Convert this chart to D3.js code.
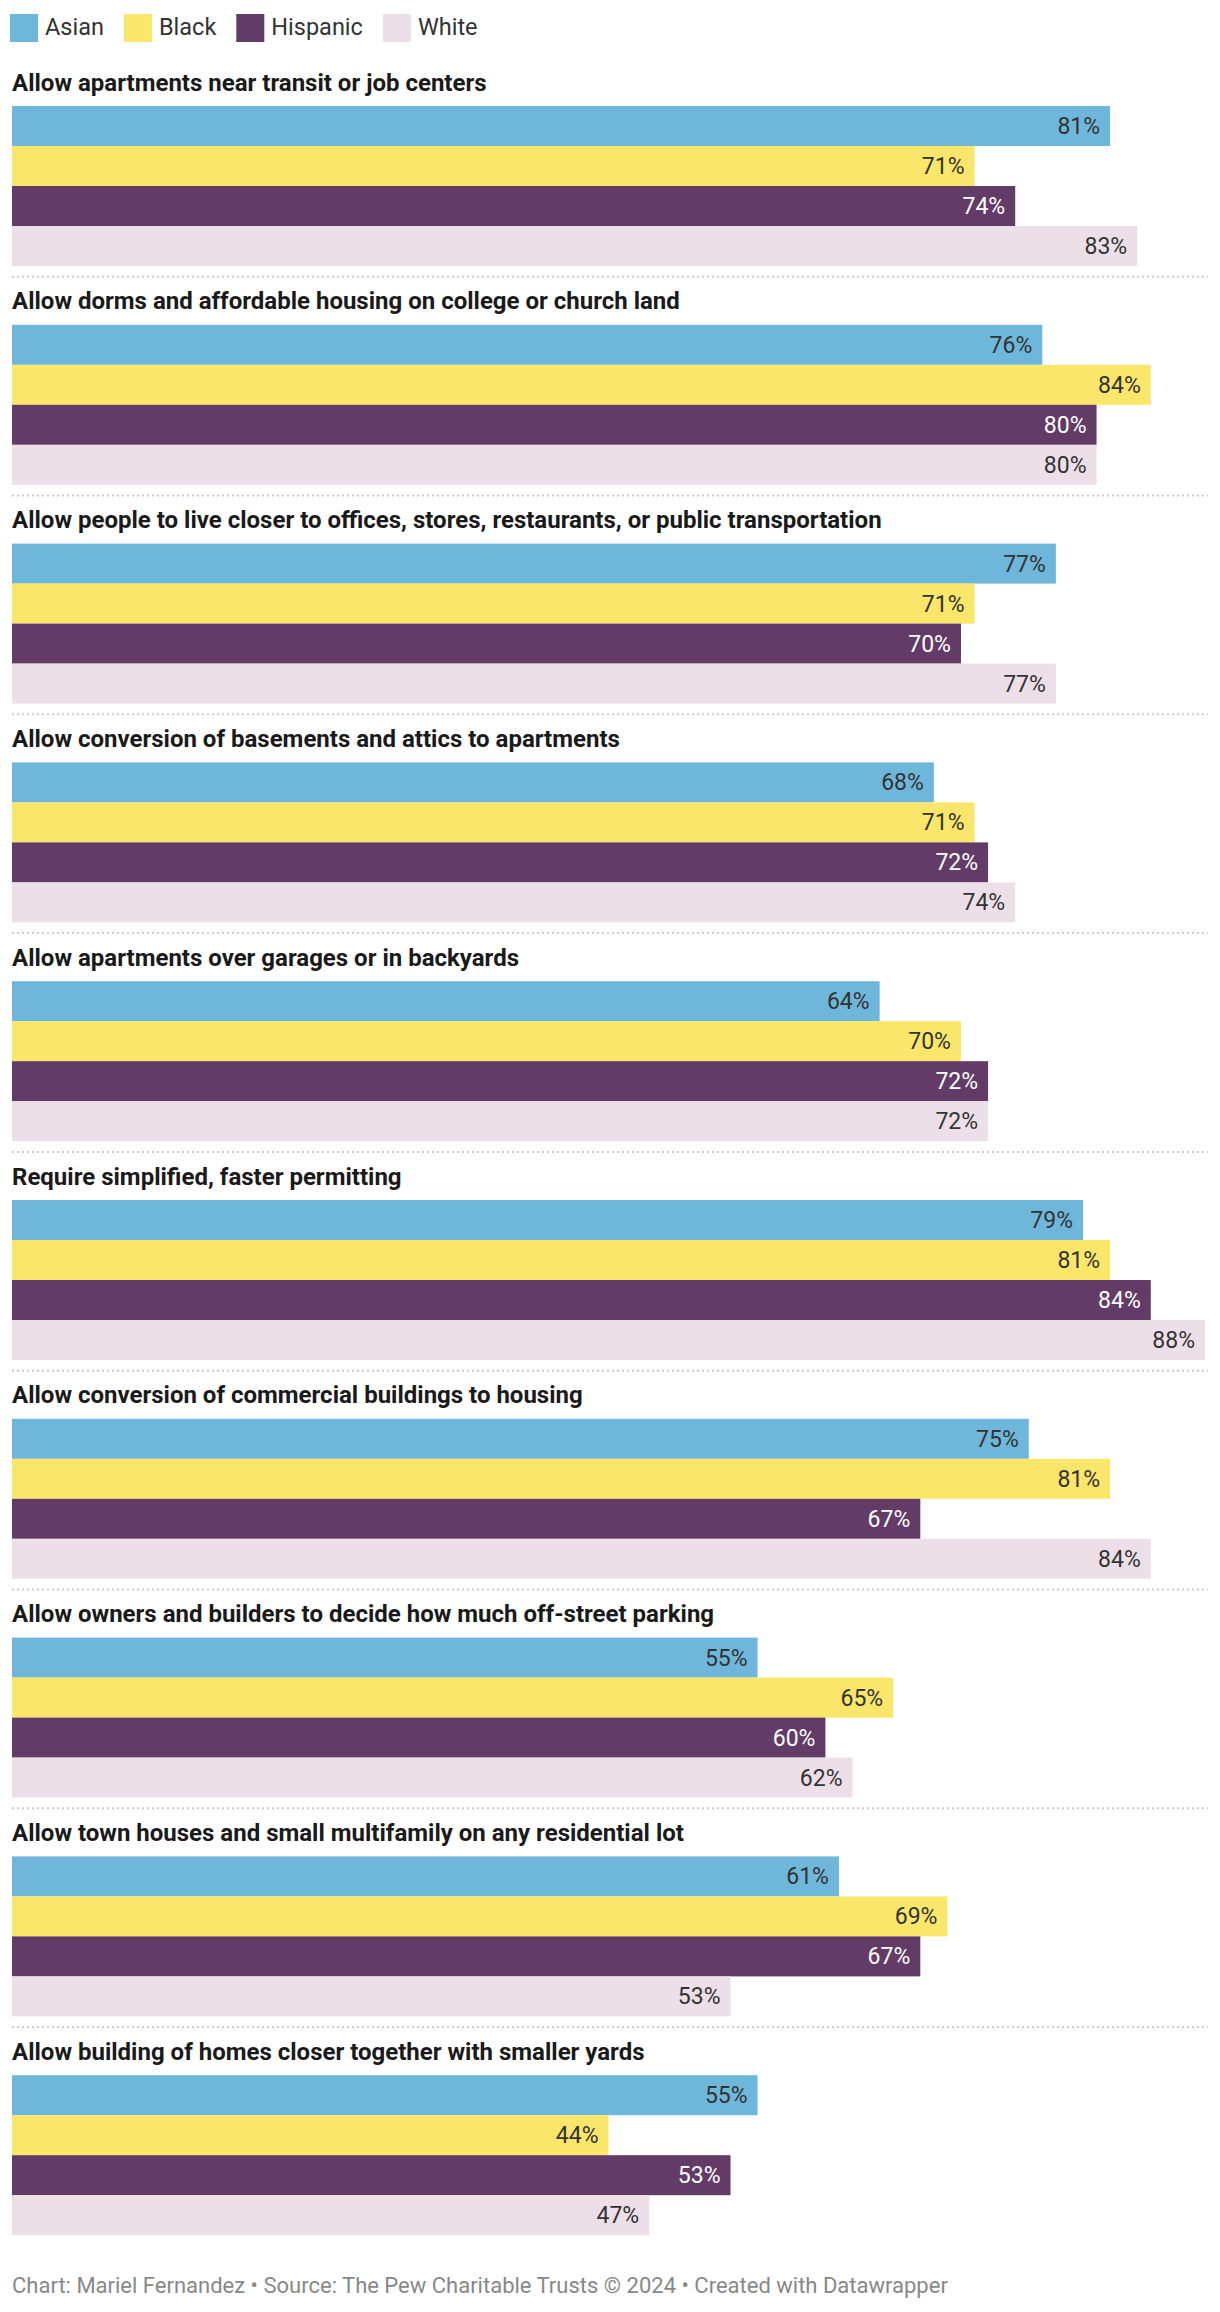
<!DOCTYPE html>
<html>
<head>
<meta charset="utf-8">
<script src="https://cdnjs.cloudflare.com/ajax/libs/d3/7.8.5/d3.min.js"></script>
<style>
body { margin: 0; background: #fff; font-family: Roboto, sans-serif; }
</style>
</head>
<body>
<svg width="1220" height="2312"></svg>
<script>
// groups (questions) and series values
var questions = [
  "Allow apartments near transit or job centers",
  "Allow dorms and affordable housing on college or church land",
  "Allow people to live closer to offices, stores, restaurants, or public transportation",
  "Allow conversion of basements and attics to apartments",
  "Allow apartments over garages or in backyards",
  "Require simplified, faster permitting",
  "Allow conversion of commercial buildings to housing",
  "Allow owners and builders to decide how much off-street parking",
  "Allow town houses and small multifamily on any residential lot",
  "Allow building of homes closer together with smaller yards"
];
var races = ["Asian", "Black", "Hispanic", "White"];
var asian    = [81, 76, 77, 68, 64, 79, 75, 55, 61, 55];
var black    = [71, 84, 71, 71, 70, 81, 81, 65, 69, 44];
var hispanic = [74, 80, 70, 72, 72, 84, 67, 60, 67, 53];
var white    = [83, 80, 77, 74, 72, 88, 84, 62, 53, 47];
var colors = ["#6fb7da", "#f9e66b", "#623b66", "#ecdfe8"];
var labelColors = ["#333333", "#333333", "#ffffff", "#333333"];
var footer = "Chart: Mariel Fernandez \u2022 Source: The Pew Charitable Trusts \u00a9 2024 \u2022 Created with Datawrapper";

var series = [asian, black, hispanic, white];
var svg = d3.select("svg");

var x = d3.scaleLinear()
  .domain([0, d3.max(series, function(s) { return d3.max(s); })])
  .range([12, 1205]);

// group offsets
var groupY = d3.scaleLinear().domain([0, 1]).range([106, 106 + 218.8]);

// bars within a group
var y = d3.scaleBand().domain(races).range([0, 160]).padding(0);

// legend
var legend = svg.append("g");
var lx = 10;
races.forEach(function(r, i) {
  legend.append("rect")
    .attr("x", lx).attr("y", 14)
    .attr("width", 28).attr("height", 28)
    .attr("fill", colors[i]);
  var t = legend.append("text")
    .attr("x", lx + 35).attr("y", 35)
    .style("font-size", "23.5px")
    .attr("fill", "#333")
    .text(r);
  lx += 35 + t.node().getComputedTextLength() + 20;
});

questions.forEach(function(q, qi) {
  var g = svg.append("g")
    .attr("transform", "translate(0," + groupY(qi) + ")");

  g.append("text")
    .attr("x", 12).attr("y", -15.5)
    .style("font-size", "24px")
    .style("font-weight", "bold")
    .attr("fill", "#1a1a1a")
    .text(q);

  races.forEach(function(r, ri) {
    var v = series[ri][qi];
    g.append("rect")
      .attr("x", x(0))
      .attr("y", y(r))
      .attr("width", x(v) - x(0))
      .attr("height", y.bandwidth())
      .attr("fill", colors[ri]);
    g.append("text")
      .attr("x", x(v) - 10)
      .attr("y", y(r) + y.bandwidth() / 2 + 8)
      .attr("text-anchor", "end")
      .style("font-size", "23px")
      .attr("fill", labelColors[ri])
      .text(v + "%");
  });

  // dotted separator
  if (qi < questions.length - 1) {
    g.append("line")
      .attr("x1", 12).attr("x2", 1208)
      .attr("y1", 170.7).attr("y2", 170.7)
      .attr("stroke", "#cccccc")
      .attr("stroke-width", 2)
      .attr("stroke-dasharray", "2,3");
  }
});

svg.append("text")
  .attr("x", 12).attr("y", 2293)
  .style("font-size", "22px")
  .attr("fill", "#888")
  .text(footer);
</script>
</body>
</html>
